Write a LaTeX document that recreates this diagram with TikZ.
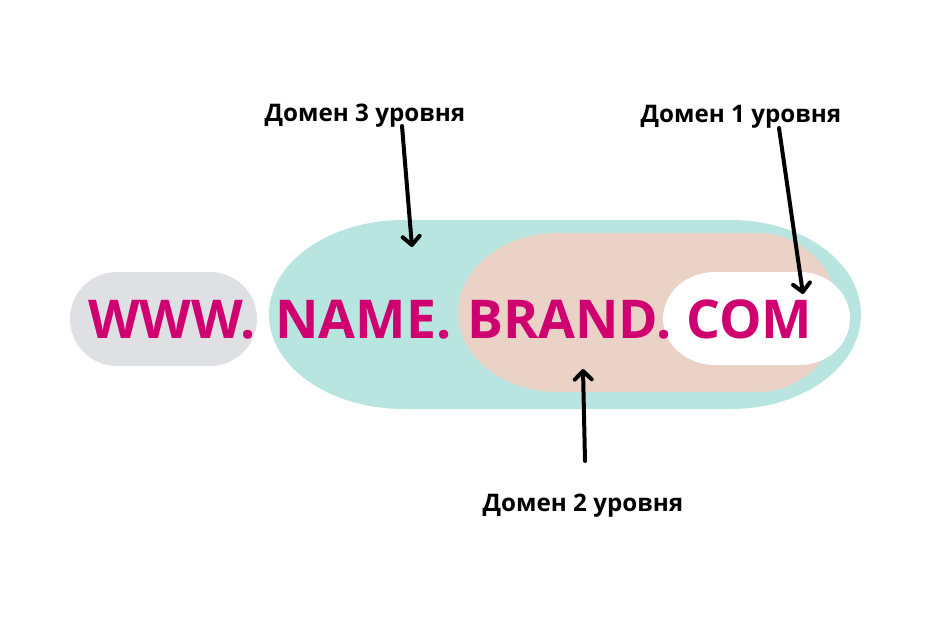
\documentclass[tikz,border=0pt]{standalone}
\usepackage{fontspec}
\setmainfont{Open Sans}
\usetikzlibrary{arrows.meta}
\definecolor{teal1}{HTML}{B8E5E0}
\definecolor{salmon1}{HTML}{EAD2C7}
\definecolor{gray1}{HTML}{DFE0E4}
\definecolor{mag1}{HTML}{CF0070}
% #1 colour, #2 left, #3 top, #4 right, #5 bottom, #6 left rx, #7 right rx
\newcommand\myoval[7]{%
  \pgfmathsetmacro\ry{(#5-#3)/2}%
  \fill[#1] ({#2+#6},#3) -- ({#4-#7},#3)
    arc[start angle=-90,end angle=90,x radius=#7,y radius=\ry]
    -- ({#2+#6},#5)
    arc[start angle=90,end angle=270,x radius=#6,y radius=\ry] -- cycle;}
\tikzset{
  domtext/.style={font=\bfseries\fontsize{53.5}{60}\selectfont, text=mag1, inner sep=0pt, anchor=base west},
  lbltext/.style={font=\bfseries\fontsize{24.2}{28}\selectfont, text=black, inner sep=0pt, anchor=base},
  arr/.style={line width=4pt, -{Straight Barb[length=8.5pt,width=17pt,round]}, line cap=round}
}
\begin{document}
\begin{tikzpicture}[x=1pt,y=-1pt]
\useasboundingbox (0,0) rectangle (938,625);
\fill[white] (0,0) rectangle (938,625);
\myoval{teal1}{269}{220}{861}{409}{135}{130}
\myoval{salmon1}{458}{233}{838}{392}{100}{80}
\myoval{white}{663}{272}{850}{365}{52}{50}
\myoval{gray1}{70}{272}{257}{366}{47}{47}
\node[domtext] (www) at (88,338) {WWW.};
\node[domtext] (name) at (275,338) {NAME.};
\node[domtext] (brand) at (467,338) {BRAND.};
\node[domtext] (com) at (686,338) {COM};
\node[lbltext] (l3) at (365,121) {Домен 3 уровня};
\node[lbltext] (l1) at (741,122) {Домен 1 уровня};
\node[lbltext] (l2) at (583,511) {Домен 2 уровня};
\coordinate (a3s) at (402,126);
\coordinate (a3e) at (412,247);
\coordinate (a1s) at (779,128);
\coordinate (a1e) at (803,294);
\coordinate (a2s) at (585,461);
\coordinate (a2e) at (583,369);
\draw[arr] (a3s) -- (a3e);
\draw[arr] (a1s) -- (a1e);
\draw[arr] (a2s) -- (a2e);
\end{tikzpicture}
\end{document}
